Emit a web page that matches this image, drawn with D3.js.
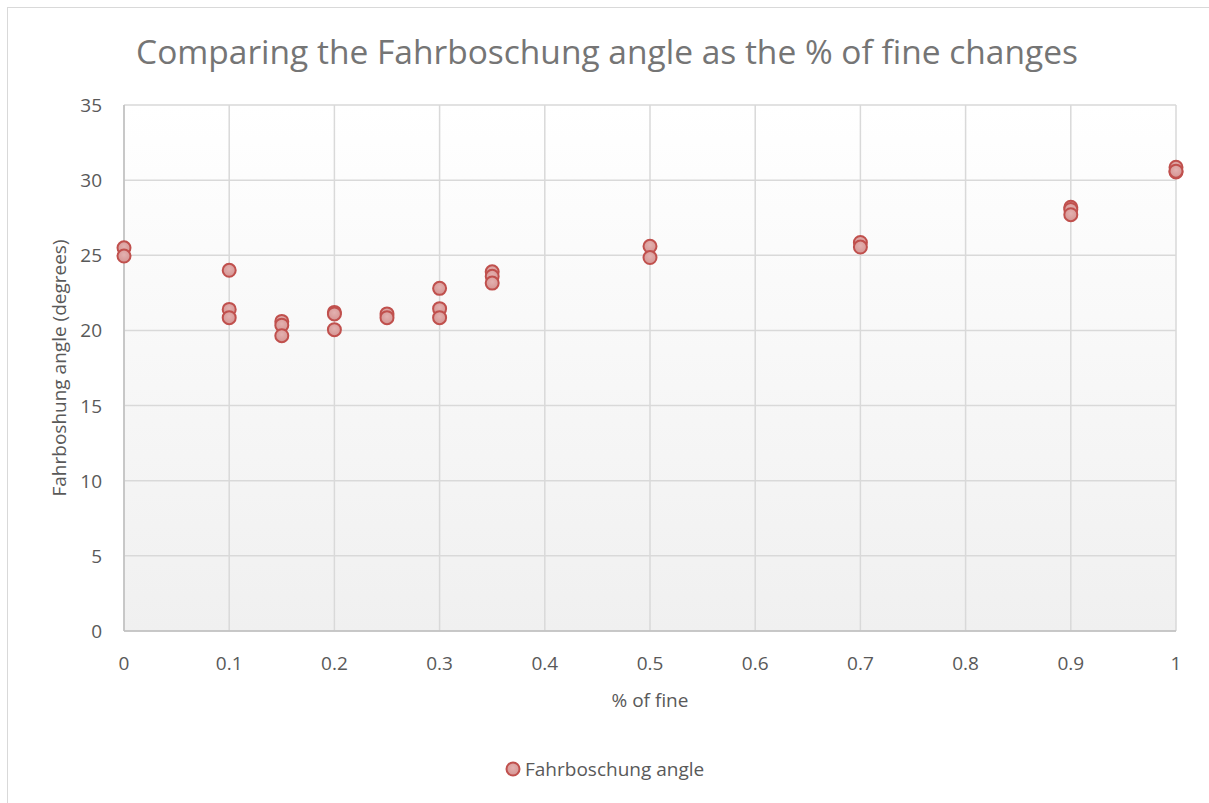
<!DOCTYPE html>
<html>
<head>
<meta charset="utf-8">
<script src="https://cdn.jsdelivr.net/npm/d3@7"></script>
<style>
  body { margin: 0; background: #fff; }
  svg { font-family: "Open Sans", "Noto Sans", sans-serif; }
</style>
</head>
<body>
<svg id="chart" width="1209" height="803"></svg>
<script>
// % of fine for each test
var fines = [0, 0, 0.1, 0.1, 0.1, 0.15, 0.15, 0.15, 0.2, 0.2, 0.2, 0.25, 0.25,
  0.3, 0.3, 0.3, 0.35, 0.35, 0.35, 0.5, 0.5, 0.7, 0.7, 0.9, 0.9, 0.9, 1, 1, 1];
// Fahrboschung angle (degrees)
var angles = [25.5, 24.95, 24.0, 21.4, 20.85, 20.6, 20.35, 19.65, 21.2, 21.1, 20.05, 21.1, 20.85,
  22.8, 21.45, 20.85, 23.9, 23.6, 23.15, 25.6, 24.85, 25.85, 25.55, 28.2, 28.05, 27.7, 30.85, 30.55, 30.6];
var xTicks = [0, 0.1, 0.2, 0.3, 0.4, 0.5, 0.6, 0.7, 0.8, 0.9, 1];
var yTicks = [0, 5, 10, 15, 20, 25, 30, 35];

var svg = d3.select("#chart");
var plotL = 124, plotR = 1176, plotT = 105, plotB = 631;

var x = d3.scaleLinear().domain([0, 1]).range([plotL, plotR]);
var y = d3.scaleLinear().domain([0, 35]).range([plotB, plotT]);

// chart frame
svg.append("rect")
  .attr("x", 7.5).attr("y", 7.5).attr("width", 1210).attr("height", 1000)
  .attr("fill", "#fff").attr("stroke", "#d9d9d9").attr("stroke-width", 1);

// plot area gradient
var defs = svg.append("defs");
var grad = defs.append("linearGradient").attr("id", "bg")
  .attr("x1", 0).attr("y1", 0).attr("x2", 0).attr("y2", 1);
grad.append("stop").attr("offset", "0%").attr("stop-color", "#ffffff");
grad.append("stop").attr("offset", "100%").attr("stop-color", "#f0f0f0");

var mgrad = defs.append("radialGradient").attr("id", "mk")
  .attr("cx", "50%").attr("cy", "40%").attr("r", "60%");
mgrad.append("stop").attr("offset", "0%").attr("stop-color", "#e3b1b0");
mgrad.append("stop").attr("offset", "100%").attr("stop-color", "#d59492");

svg.append("rect")
  .attr("x", plotL).attr("y", plotT).attr("width", plotR - plotL).attr("height", plotB - plotT)
  .attr("fill", "url(#bg)");

// grid
svg.append("g").selectAll("line").data(yTicks).join("line")
  .attr("x1", plotL).attr("x2", plotR)
  .attr("y1", d => y(d)).attr("y2", d => y(d))
  .attr("stroke", "#d9d9d9").attr("stroke-width", 1.5);
svg.append("g").selectAll("line").data(xTicks).join("line")
  .attr("y1", plotT).attr("y2", plotB)
  .attr("x1", d => x(d)).attr("x2", d => x(d))
  .attr("stroke", "#d9d9d9").attr("stroke-width", 1.5);

// axis lines
svg.append("line").attr("x1", plotL).attr("x2", plotR).attr("y1", plotB).attr("y2", plotB)
  .attr("stroke", "#bfbfbf").attr("stroke-width", 1.5);
svg.append("line").attr("x1", plotL).attr("x2", plotL).attr("y1", plotT).attr("y2", plotB)
  .attr("stroke", "#bfbfbf").attr("stroke-width", 1.5);

// tick labels
svg.append("g").selectAll("text").data(yTicks).join("text")
  .attr("x", 102).attr("y", d => y(d) + 7)
  .attr("text-anchor", "end")
  .attr("font-size", 19).attr("fill", "#595959")
  .text(d => d);
svg.append("g").selectAll("text").data(xTicks).join("text")
  .attr("x", d => x(d)).attr("y", 670)
  .attr("text-anchor", "middle")
  .attr("font-size", 19).attr("fill", "#595959")
  .text(d => d);

// titles
svg.append("text")
  .attr("x", 607).attr("y", 64)
  .attr("text-anchor", "middle")
  .attr("font-size", 33.5).attr("fill", "#757575")
  .text("Comparing the Fahrboschung angle as the % of fine changes");

svg.append("text")
  .attr("x", 650).attr("y", 707)
  .attr("text-anchor", "middle")
  .attr("font-size", 19).attr("fill", "#595959")
  .text("% of fine");

svg.append("text")
  .attr("transform", "translate(66," + (plotT + plotB) / 2 + ") rotate(-90)")
  .attr("text-anchor", "middle")
  .attr("font-size", 19).attr("fill", "#595959")
  .text("Fahrboshung angle (degrees)");

// points
svg.append("g").selectAll("circle").data(d3.range(fines.length)).join("circle")
  .attr("cx", i => x(fines[i]))
  .attr("cy", i => y(angles[i]))
  .attr("r", 6.5)
  .attr("fill", "url(#mk)")
  .attr("stroke", "#c0504d").attr("stroke-width", 2);

// legend
svg.append("circle").attr("cx", 513).attr("cy", 769).attr("r", 6.5)
  .attr("fill", "url(#mk)").attr("stroke", "#c0504d").attr("stroke-width", 2);
svg.append("text").attr("x", 525).attr("y", 776)
  .attr("font-size", 19).attr("fill", "#595959")
  .text("Fahrboschung angle");
</script>
</body>
</html>
